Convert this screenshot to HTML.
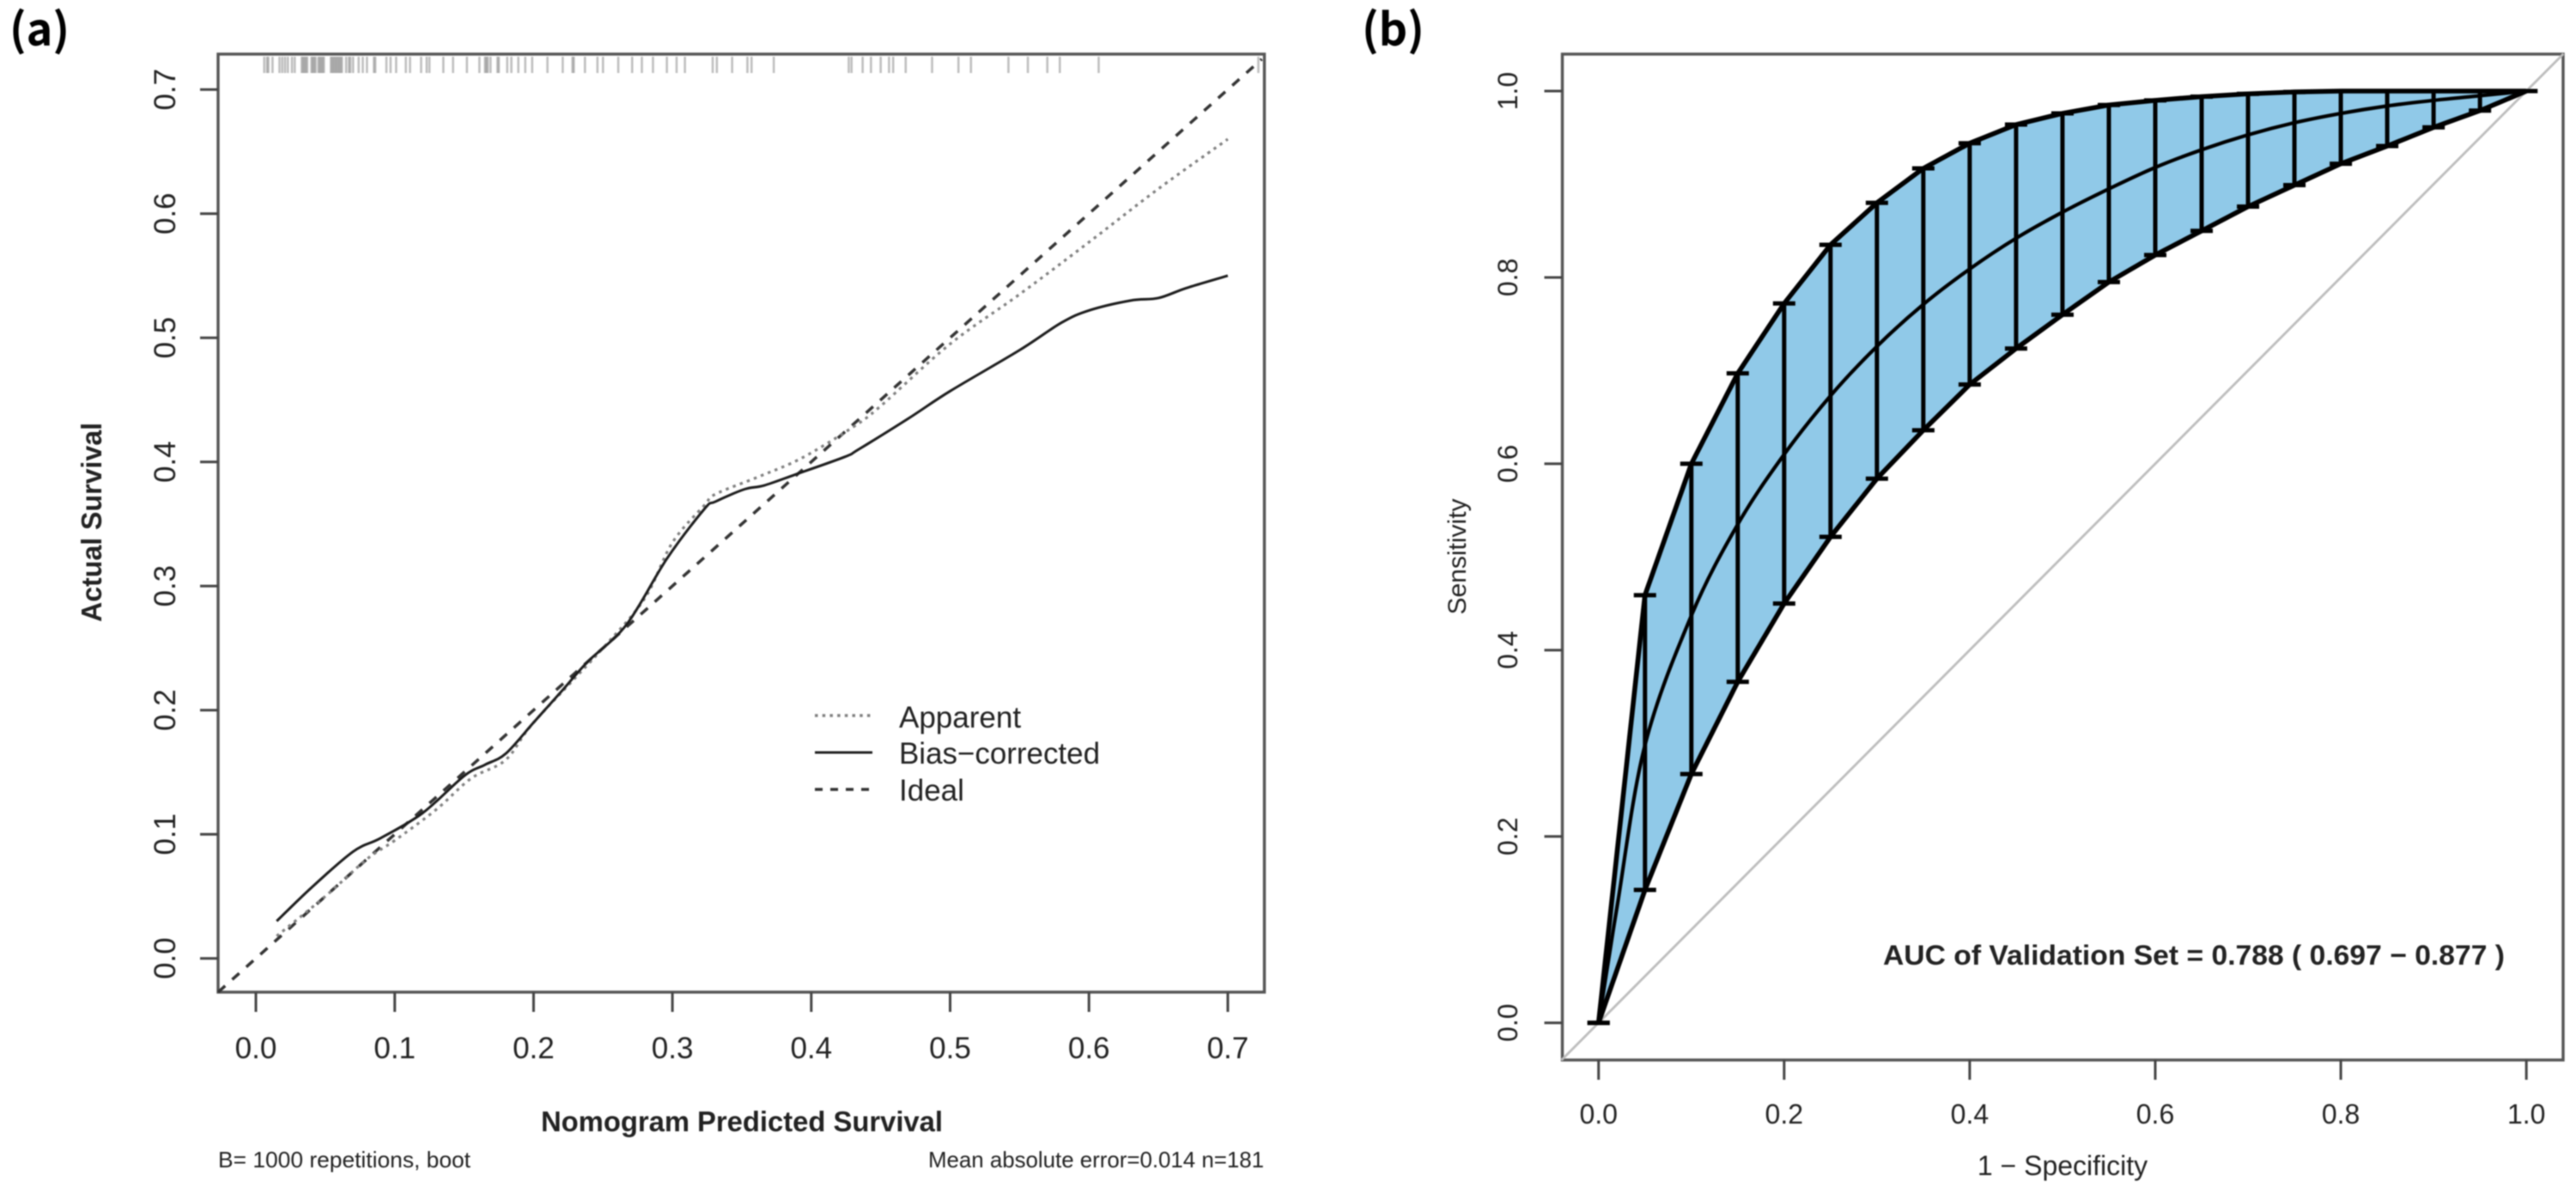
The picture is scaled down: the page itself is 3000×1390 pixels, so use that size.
<!DOCTYPE html>
<html lang="en">
<head>
<meta charset="utf-8">
<title>Calibration and ROC curves</title>
<style>
html,body{margin:0;padding:0;background:#fff;}
#chart-root{display:block;width:3000px;height:1390px;filter:blur(0.9px);}
text{font-family:"Liberation Sans",sans-serif;fill:#222;}
</style>
</head>
<body>
<svg id="chart-root" xmlns="http://www.w3.org/2000/svg" width="3000" height="1390" viewBox="0 0 3000 1390">
  <rect x="0" y="0" width="3000" height="1390" fill="#ffffff"/>

  <text x="11" y="53" style="font-family:'Noto Sans CJK SC','Liberation Sans',sans-serif;font-weight:700;fill:#000" font-size="52">(a)</text>
  <text x="1586" y="53" style="font-family:'Noto Sans CJK SC','Liberation Sans',sans-serif;font-weight:700;fill:#000" font-size="52">(b)</text>

  <g id="panel-a"></g>
  <g id="panel-b"></g>

  <text transform="translate(118,608) rotate(-90)" text-anchor="middle" font-size="33" font-weight="bold" textLength="232" lengthAdjust="spacingAndGlyphs">Actual Survival</text>
  <text x="630" y="1317" font-size="33" font-weight="bold" textLength="468" lengthAdjust="spacingAndGlyphs">Nomogram Predicted Survival</text>
  <text x="254" y="1359" font-size="26" textLength="294" lengthAdjust="spacingAndGlyphs">B= 1000 repetitions, boot</text>
  <text x="1081" y="1359" font-size="26" textLength="391" lengthAdjust="spacingAndGlyphs">Mean absolute error=0.014 n=181</text>

  <g>
    <line x1="949" y1="833" x2="1016" y2="833" stroke="#808080" stroke-width="3.5" stroke-dasharray="3.5 5.2"/>
    <text x="1047" y="847" font-size="35">Apparent</text>
    <line x1="949" y1="876" x2="1016" y2="876" stroke="#222" stroke-width="3"/>
    <text x="1047" y="889" font-size="35" textLength="234" lengthAdjust="spacingAndGlyphs">Bias−corrected</text>
    <line x1="949" y1="919" x2="1013" y2="919" stroke="#333" stroke-width="3.5" stroke-dasharray="9 9"/>
    <text x="1047" y="932" font-size="35">Ideal</text>
  </g>

  <text transform="translate(1707,648) rotate(-90)" text-anchor="middle" font-size="30">Sensitivity</text>
  <text x="2402" y="1368" text-anchor="middle" font-size="32">1 − Specificity</text>
  <text x="2193" y="1123" font-size="32" font-weight="bold" textLength="724" lengthAdjust="spacingAndGlyphs">AUC of Validation Set = 0.788 ( 0.697 − 0.877 )</text>
</svg>

<script>
// ---- Calibration plot data ----
var calTickLabels = ["0.0", "0.1", "0.2", "0.3", "0.4", "0.5", "0.6", "0.7"];
var calTickValues = [0, 0.1, 0.2, 0.3, 0.4, 0.5, 0.6, 0.7];
var biasX = [0.015, 0.04, 0.07, 0.09, 0.12, 0.15, 0.165, 0.18, 0.2, 0.22, 0.239, 0.267, 0.296, 0.323, 0.331, 0.352, 0.366, 0.389, 0.424, 0.434, 0.47, 0.5, 0.55, 0.58, 0.6, 0.63, 0.65, 0.67, 0.7];
var biasY = [0.03, 0.057, 0.086, 0.097, 0.117, 0.147, 0.156, 0.165, 0.19, 0.215, 0.239, 0.269, 0.322, 0.362, 0.368, 0.378, 0.381, 0.39, 0.404, 0.41, 0.435, 0.457, 0.49, 0.512, 0.522, 0.53, 0.532, 0.54, 0.55];
var apparentX = [0.015, 0.05, 0.08, 0.1, 0.13, 0.155, 0.18, 0.2, 0.25, 0.28, 0.3, 0.323, 0.331, 0.362, 0.393, 0.43, 0.45, 0.5, 0.55, 0.6, 0.65, 0.7];
var apparentY = [0.018, 0.05, 0.08, 0.095, 0.12, 0.145, 0.16, 0.19, 0.25, 0.29, 0.335, 0.365, 0.374, 0.388, 0.403, 0.428, 0.445, 0.495, 0.535, 0.577, 0.62, 0.66];
var rugValues = [0.006, 0.008, 0.009, 0.012, 0.017, 0.019, 0.021, 0.023, 0.026, 0.028, 0.033, 0.034, 0.035, 0.036, 0.037, 0.04, 0.041, 0.042, 0.043, 0.045, 0.046, 0.047, 0.048, 0.049, 0.054, 0.055, 0.056, 0.057, 0.058, 0.059, 0.06, 0.061, 0.062, 0.065, 0.067, 0.068, 0.07, 0.074, 0.077, 0.08, 0.085, 0.086, 0.094, 0.097, 0.101, 0.108, 0.111, 0.119, 0.123, 0.125, 0.135, 0.142, 0.152, 0.161, 0.165, 0.166, 0.167, 0.169, 0.174, 0.175, 0.181, 0.184, 0.189, 0.194, 0.199, 0.21, 0.221, 0.228, 0.229, 0.237, 0.246, 0.25, 0.261, 0.271, 0.278, 0.286, 0.296, 0.303, 0.309, 0.329, 0.332, 0.343, 0.354, 0.357, 0.373, 0.427, 0.429, 0.437, 0.443, 0.45, 0.456, 0.459, 0.468, 0.487, 0.506, 0.515, 0.542, 0.556, 0.57, 0.579, 0.607, 0.722];
var idealEnds = [-0.0272, 0.7245];

// ---- ROC plot data ----
var rocTickLabels = ["0.0", "0.2", "0.4", "0.6", "0.8", "1.0"];
var rocTickValues = [0, 0.2, 0.4, 0.6, 0.8, 1];
var fpr = [0, 0.05, 0.1, 0.15, 0.2, 0.25, 0.3, 0.35, 0.4, 0.45, 0.5, 0.55, 0.6, 0.65, 0.7, 0.75, 0.8, 0.85, 0.9, 0.95, 1];
var upperCI = [0, 0.459, 0.6, 0.697, 0.772, 0.835, 0.88, 0.917, 0.944, 0.964, 0.976, 0.985, 0.99, 0.994, 0.997, 0.999, 1, 1, 1, 1, 1];
var lowerCI = [0, 0.1426, 0.267, 0.366, 0.45, 0.5215, 0.584, 0.636, 0.685, 0.7237, 0.76, 0.795, 0.824, 0.85, 0.876, 0.899, 0.922, 0.941, 0.961, 0.979, 1];
var midCurveX = [0, 0.02, 0.05, 0.1, 0.15, 0.2, 0.25, 0.3, 0.35, 0.4, 0.45, 0.5, 0.55, 0.6, 0.65, 0.7, 0.75, 0.8, 0.85, 0.9, 0.95, 1];
var midCurveY = [0, 0.125, 0.298, 0.437, 0.535, 0.61, 0.673, 0.726, 0.771, 0.809, 0.842, 0.87, 0.895, 0.918, 0.937, 0.953, 0.966, 0.976, 0.984, 0.99, 0.995, 1];
var diagonalEnds = [-0.04, 1.04];

var NS = "http://www.w3.org/2000/svg";

function setAttrs(el, attrs) {
  for (var k in attrs) { el.setAttribute(k, attrs[k]); }
}
function linePath(xs, ys, fx, fy) {
  var d = "";
  for (var i = 0; i < xs.length; i++) {
    d += (i ? "L" : "M") + fx(xs[i]).toFixed(2) + " " + fy(ys[i]).toFixed(2);
  }
  return d;
}
function smoothPath(xs, ys, fx, fy) {
  var px = xs.map(fx), py = ys.map(fy), n = px.length;
  var d = "M" + px[0].toFixed(2) + " " + py[0].toFixed(2);
  for (var i = 0; i < n - 1; i++) {
    var a = Math.max(i - 1, 0), b = Math.min(i + 2, n - 1);
    var c1x = px[i] + (px[i + 1] - px[a]) / 6, c1y = py[i] + (py[i + 1] - py[a]) / 6;
    var c2x = px[i + 1] - (px[b] - px[i]) / 6, c2y = py[i + 1] - (py[b] - py[i]) / 6;
    d += "C" + c1x.toFixed(2) + " " + c1y.toFixed(2) + " " + c2x.toFixed(2) + " " + c2y.toFixed(2) + " " + px[i + 1].toFixed(2) + " " + py[i + 1].toFixed(2);
  }
  return d;
}

function drawFrameAndAxes(g, box, fx, fy, tickVals, tickLabels, opts) {
  var frame = document.createElementNS(NS, "rect");
  
  
  setAttrs(frame, {x: box.l, y: box.t, width: box.r - box.l, height: box.b - box.t, fill: "none", stroke: "#555", "stroke-width": 3.4});
  g.appendChild(frame);
  tickVals.forEach(function (v, i) {
    var xt = document.createElementNS(NS, "line");
    
    
    setAttrs(xt, {x1: fx(v), x2: fx(v), y1: box.b, y2: box.b + 23, stroke: "#444", "stroke-width": 3});
    g.appendChild(xt);
    var xl = document.createElementNS(NS, "text");
    
    
    setAttrs(xl, {x: fx(v), y: opts.xLabelY, "text-anchor": "middle", "font-size": opts.fontSize});
    xl.textContent = tickLabels[i];
    g.appendChild(xl);
    var yt = document.createElementNS(NS, "line");
    
    
    setAttrs(yt, {x1: box.l - 21, x2: box.l, y1: fy(v), y2: fy(v), stroke: "#444", "stroke-width": 3});
    g.appendChild(yt);
    var yl = document.createElementNS(NS, "text");
    
    
    setAttrs(yl, {transform: "translate(" + opts.yLabelX + "," + fy(v) + ") rotate(-90)", "text-anchor": "middle", "font-size": opts.fontSize});
    yl.textContent = tickLabels[i];
    g.appendChild(yl);
  });
}

// ---- Draw calibration plot ----
(function () {
  var g = document.getElementById("panel-a");
  var box = {l: 254, r: 1472.5, t: 63, b: 1155};
  var fx = function (v) { return 298 + v * 1617; };
  var fy = function (v) { return 1115.7 - v * 1445; };
  drawFrameAndAxes(g, box, fx, fy, calTickValues, calTickLabels, {xLabelY: 1232, yLabelX: 204, fontSize: 35});

  rugValues.forEach(function (v, i) {
    var r = document.createElementNS(NS, "line");
    
    
    setAttrs(r, {x1: fx(v), x2: fx(v), y1: 66, y2: 85, stroke: "#666", "stroke-width": 2.6, "stroke-opacity": 0.42});
    g.appendChild(r);
  });

  var ideal = document.createElementNS(NS, "path");
  
  
  setAttrs(ideal, {d: linePath(idealEnds, idealEnds, fx, fy), fill: "none", stroke: "#333", "stroke-width": 3.5, "stroke-dasharray": "11 11"});
  g.appendChild(ideal);

  var app = document.createElementNS(NS, "path");
  
  
  setAttrs(app, {d: smoothPath(apparentX, apparentY, fx, fy), fill: "none", stroke: "#808080", "stroke-width": 3.2, "stroke-dasharray": "3.5 5.2"});
  g.appendChild(app);

  var bias = document.createElementNS(NS, "path");
  
  
  setAttrs(bias, {d: smoothPath(biasX, biasY, fx, fy), fill: "none", stroke: "#1c1c1c", "stroke-width": 3});
  g.appendChild(bias);
})();

// ---- Draw ROC plot ----
(function () {
  var g = document.getElementById("panel-b");
  var box = {l: 1819.5, r: 2985, t: 63, b: 1234};
  var fx = function (v) { return 1861.7 + v * 1080.5; };
  var fy = function (v) { return 1190.7 - v * 1084.7; };

  var band = document.createElementNS(NS, "path");
  
  
  var bandX = fpr.concat(fpr.slice().reverse());
  var bandY = upperCI.concat(lowerCI.slice().reverse());
  setAttrs(band, {d: linePath(bandX, bandY, fx, fy) + "Z", fill: "#90C9E8", stroke: "none"});
  g.appendChild(band);

  drawFrameAndAxes(g, box, fx, fy, rocTickValues, rocTickLabels, {xLabelY: 1308, yLabelX: 1767, fontSize: 32});

  var diag = document.createElementNS(NS, "path");
  
  
  setAttrs(diag, {d: linePath(diagonalEnds, diagonalEnds, fx, fy), fill: "none", stroke: "#bdbdbd", "stroke-width": 2.8});
  g.appendChild(diag);

  fpr.forEach(function (v, i) {
    var bar = document.createElementNS(NS, "line");
    
    
    setAttrs(bar, {x1: fx(v), x2: fx(v), y1: fy(lowerCI[i]), y2: fy(upperCI[i]), stroke: "#000", "stroke-width": 5});
    g.appendChild(bar);
    var capU = document.createElementNS(NS, "line");
    
    
    setAttrs(capU, {x1: fx(v) - 13, x2: fx(v) + 13, y1: fy(upperCI[i]), y2: fy(upperCI[i]), stroke: "#000", "stroke-width": 5});
    g.appendChild(capU);
    var capL = document.createElementNS(NS, "line");
    
    
    setAttrs(capL, {x1: fx(v) - 13, x2: fx(v) + 13, y1: fy(lowerCI[i]), y2: fy(lowerCI[i]), stroke: "#000", "stroke-width": 5});
    g.appendChild(capL);
  });

  var up = document.createElementNS(NS, "path");
  
  
  setAttrs(up, {d: linePath(fpr, upperCI, fx, fy), fill: "none", stroke: "#000", "stroke-width": 5.6, "stroke-linejoin": "round"});
  g.appendChild(up);

  var lo = document.createElementNS(NS, "path");
  
  
  setAttrs(lo, {d: linePath(fpr, lowerCI, fx, fy), fill: "none", stroke: "#000", "stroke-width": 5.6, "stroke-linejoin": "round"});
  g.appendChild(lo);

  var mid = document.createElementNS(NS, "path");
  
  
  setAttrs(mid, {d: smoothPath(midCurveX, midCurveY, fx, fy), fill: "none", stroke: "#000", "stroke-width": 4.2});
  g.appendChild(mid);
})();
</script>
</body>
</html>
